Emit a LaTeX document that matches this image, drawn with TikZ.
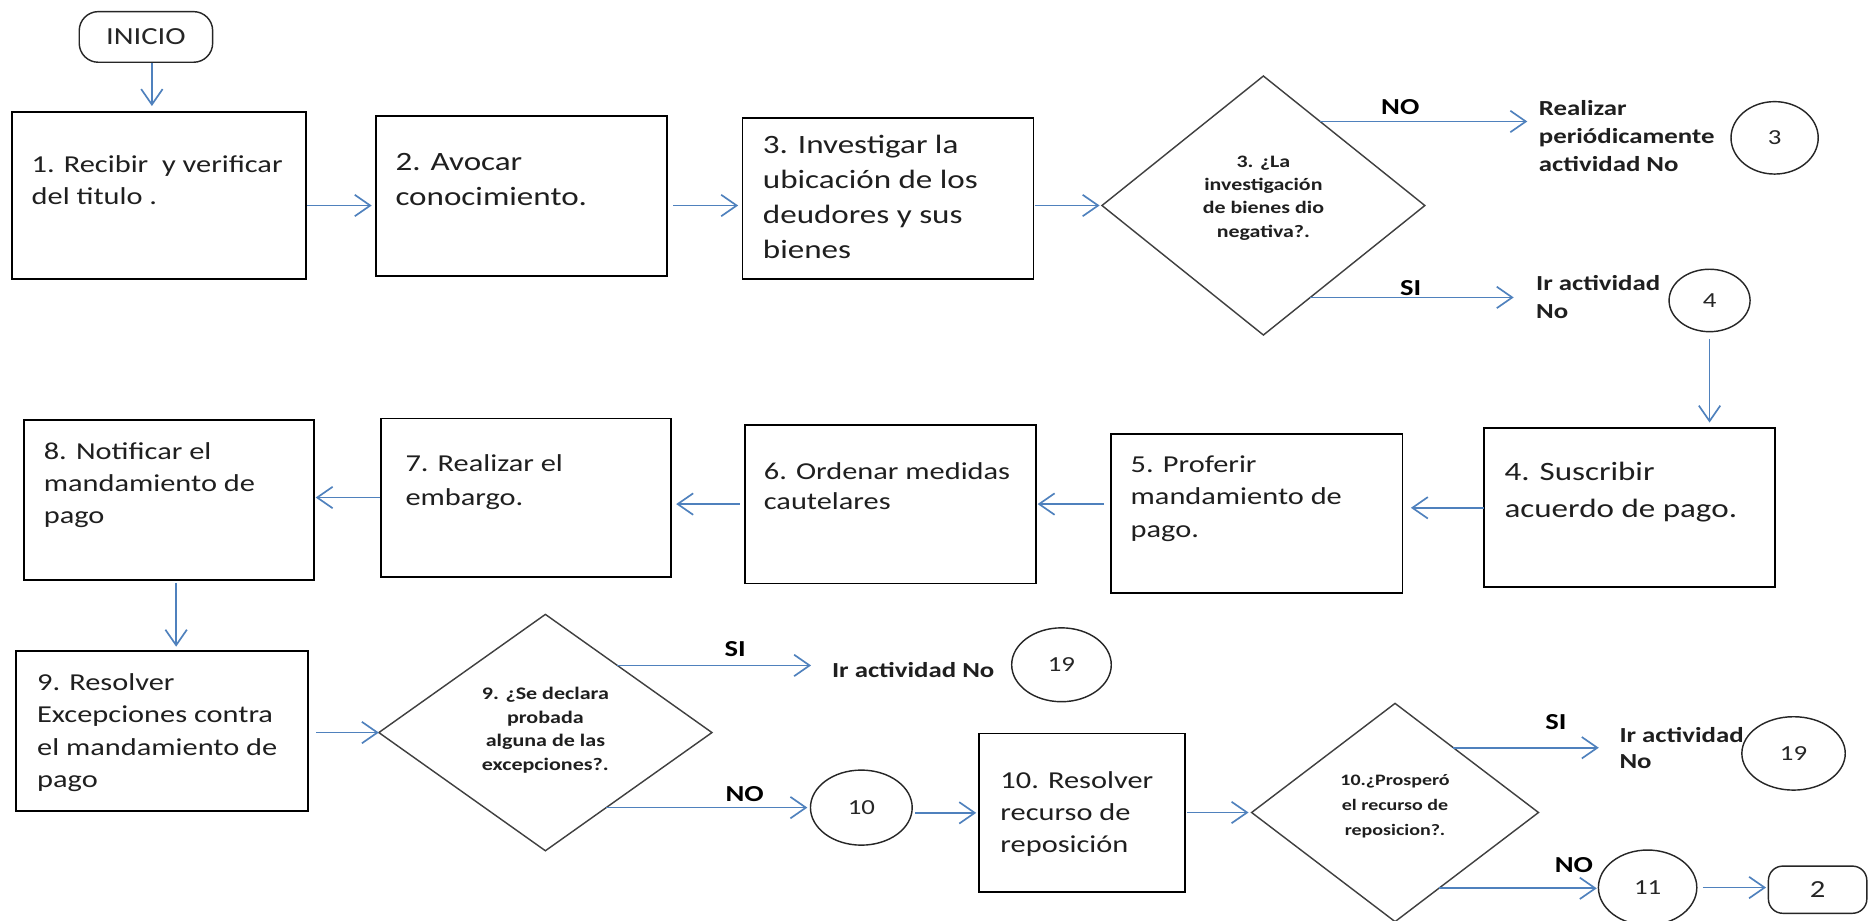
\documentclass[tikz,border=0pt]{standalone}
\usepackage{fontspec}
\setmainfont{Carlito}[FakeStretch=1.25]
\usetikzlibrary{shapes.geometric,arrows.meta}
\definecolor{arrowblue}{RGB}{79,129,189}
\newcommand{\tp}{\rule{0pt}{1em}}
\begin{document}
\begin{tikzpicture}[x=0.5pt,y=-0.5pt,
  pbox/.style={draw=black, line width=0.75pt, inner sep=0pt, outer sep=0pt, anchor=north west},
  ptxt/.style={anchor=north west, inner sep=0pt, align=left, text=black!88},
  fA/.style={font=\fontsize{10.2}{13.6}\selectfont},
  pdia/.style={diamond, draw=black!75, line width=0.6pt, inner sep=0pt, outer sep=0pt},
  pdtxt/.style={anchor=north, inner sep=0pt, align=center, text=black!88},
  pcirc/.style={ellipse, draw=black!85, line width=0.6pt, inner sep=0pt, outer sep=0pt, text=black!85, font=\fontsize{9}{10}\selectfont},
  pterm/.style={rectangle, rounded corners=8pt, draw=black!85, line width=0.6pt, inner sep=0pt, outer sep=0pt, text=black!85, font=\fontsize{10.3}{12}\selectfont},
  pside/.style={anchor=north west, inner sep=0pt, align=left, text=black!88, font=\bfseries\fontsize{9}{11.8}\selectfont},
  plbl/.style={anchor=base, inner sep=0pt, text=black, font=\bfseries\fontsize{9.6}{11}\selectfont},
  parr/.style={draw=arrowblue, line width=0.7pt, -{Straight Barb[length=6.5pt,width=9pt]}, shorten >=1.5pt, shorten <=0.5pt},
]
\useasboundingbox (0,0) rectangle (1568,773);
\fill[white] (0,0) rectangle (1568,773);

% ---------- row 1 ----------
\node[pterm, minimum width=56pt, minimum height=21.25pt] (ini) at (122.5,31) {INICIO};
\node[pbox, minimum width=123.3pt, minimum height=70.1pt] (b1) at (10.1,94.3) {};
\node[ptxt, fA] (b1t) at (26.2,123.7) {\tp 1. Recibir\ \ y verificar\\del titulo .};
\node[pbox, minimum width=122.35pt, minimum height=66.9pt] (b2) at (315.5,97.6) {};
\node[ptxt, font=\fontsize{11.1}{14.65}\selectfont] (b2t) at (331.6,120.5) {\tp 2. Avocar\\conocimiento.};
\node[pbox, minimum width=122.15pt, minimum height=67.75pt] (b3) at (623.2,99) {};
\node[ptxt, font=\fontsize{11.1}{14.7}\selectfont] (b3t) at (640,106.5) {\tp 3. Investigar la\\ubicación de los\\deudores y sus\\bienes};
\node[pdia, minimum width=135.5pt, minimum height=108.7pt] (d1) at (1060.5,172.5) {};
\node[pdtxt, font=\bfseries\fontsize{7.35}{9.8}\selectfont] (d1t) at (1060.5,125.2) {\tp 3. ¿La\\investigación\\de bienes dio\\negativa?.};
\node[pside] (t3) at (1291.4,78.5) {\tp Realizar\\periódicamente\\actividad No};
\node[pcirc, minimum width=36.6pt, minimum height=30.4pt] (c3) at (1489.6,115.7) {3};
\node[pside, font=\bfseries\fontsize{9}{11.9}\selectfont] (t4) at (1289,225.4) {\tp Ir actividad\\No};
\node[pcirc, minimum width=34pt, minimum height=26.2pt] (c4) at (1435,252.2) {4};

% ---------- row 2 ----------
\node[pbox, minimum width=122.15pt, minimum height=66.75pt] (b4) at (1245.7,359.5) {};
\node[ptxt, font=\fontsize{11.1}{15.35}\selectfont] (b4t) at (1262.5,380.8) {\tp 4. Suscribir\\acuerdo de pago.};
\node[pbox, minimum width=122.45pt, minimum height=66.85pt] (b5) at (932.4,364.3) {};
\node[ptxt, font=\fontsize{10.2}{13.65}\selectfont] (b5t) at (948.7,375.6) {\tp 5. Proferir\\mandamiento de\\pago.};
\node[pbox, minimum width=122.15pt, minimum height=66.6pt] (b6) at (625.3,356.5) {};
\node[ptxt, font=\fontsize{10.2}{12.8}\selectfont] (b6t) at (640.8,381.3) {\tp 6. Ordenar medidas\\cautelares};
\node[pbox, minimum width=121.55pt, minimum height=66.4pt] (b7) at (320.1,351.2) {};
\node[ptxt, font=\fontsize{10.2}{14.3}\selectfont] (b7t) at (340,374.6) {\tp 7. Realizar el\\embargo.};
\node[pbox, minimum width=121.55pt, minimum height=66.95pt] (b8) at (20.3,352.8) {};
\node[ptxt, font=\fontsize{10.2}{13.3}\selectfont] (b8t) at (36.4,365.1) {\tp 8. Notificar el\\mandamiento de\\pago};

% ---------- row 3 ----------
\node[pbox, minimum width=122.35pt, minimum height=67pt] (b9) at (13.7,546.5) {};
\node[ptxt, font=\fontsize{10.2}{13.65}\selectfont] (b9t) at (30.8,558.6) {\tp 9. Resolver\\Excepciones contra\\el mandamiento de\\pago};
\node[pdia, minimum width=139.8pt, minimum height=99.2pt] (d2) at (457.8,614.9) {};
\node[pdtxt, font=\bfseries\fontsize{7.4}{9.95}\selectfont] (d2t) at (457.8,572) {\tp 9. ¿Se declara\\probada\\alguna de las\\excepciones?.};
\node[pside] (t19a) at (698,550) {\tp Ir actividad No};
\node[pcirc, minimum width=41.8pt, minimum height=31pt] (c19a) at (891,558) {19};
\node[pcirc, minimum width=42.7pt, minimum height=31.5pt] (c10) at (723,677.9) {10};
\node[pbox, minimum width=86.5pt, minimum height=66.7pt] (b10) at (822,615.6) {};
\node[ptxt, font=\fontsize{10.2}{13.3}\selectfont] (b10t) at (839.4,641.4) {\tp 10. Resolver\\recurso de\\reposición};
\node[pdia, minimum width=120.4pt, minimum height=91.6pt] (d3) at (1171,682) {};
\node[pdtxt, font=\bfseries\fontsize{6.7}{10.5}\selectfont] (d3t) at (1171,645.6) {\tp 10.¿Prosperó\\el recurso de\\reposicion?.};
\node[pside, font=\bfseries\fontsize{9}{11.2}\selectfont] (t19b) at (1359,604.6) {\tp Ir actividad\\No};
\node[pcirc, minimum width=43.4pt, minimum height=30.8pt] (c19b) at (1505.5,632.4) {19};
\node[pcirc, minimum width=41.3pt, minimum height=31.5pt] (c11) at (1383,745) {11};
\node[pterm, rounded corners=6pt, minimum width=41.3pt, minimum height=19.8pt] (t2) at (1525.7,746.8) {2};

% ---------- connectors ----------
\coordinate (p01) at ([xshift=2.5pt]ini.south);
\draw[parr, shorten <=0.3pt, shorten >=2.65pt] (p01) -- (p01 |- b1.north);
\draw[parr, shorten >=1.75pt] (b1.east |- d1.west) -- (b2.west |- d1.west);
\draw[parr, shorten <=2.5pt, shorten >=1.8pt] (b2.east |- d1.west) -- (b3.west |- d1.west);
\draw[parr, shorten >=1pt] (b3.east |- d1.west) -- (d1.west);
\draw[parr, shorten <=0pt, shorten >=4.7pt] (d1.56) -- node[plbl, pos=0.367, yshift=3.1pt] {NO} (d1.56 -| t3.west);
\draw[parr, shorten <=0pt, shorten >=9.2pt] (d1.-63) -- node[plbl, pos=0.446, yshift=1pt] {SI} (d1.-63 -| t4.west);
\draw[parr, shorten <=3pt, shorten >=2.4pt] (c4.south) -- (c4.south |- b4.north);
\draw[parr, shorten <=0pt, shorten >=3.5pt] (b4.west) -- (b4.west -| b5.east);
\draw[parr, shorten <=2.8pt, shorten >=0.7pt] (b5.west |- b6.east) -- (b6.east);
\draw[parr, shorten <=2.2pt, shorten >=2.2pt] (b6.west) -- (b6.west -| b7.east);
\draw[parr, shorten <=0.5pt, shorten >=0.8pt] (b7.west) -- (b7.west -| b8.east);
\coordinate (p89) at ([xshift=3pt]b8.south);
\draw[parr, shorten <=1.25pt, shorten >=1.85pt] (p89) -- (p89 |- b9.north);
\draw[parr, shorten <=3.5pt, shorten >=0pt] (b9.east |- d2.west) -- (d2.west);
\draw[parr, shorten <=0pt, shorten >=8.6pt] (d2.43) -- node[plbl, pos=0.55, yshift=3.9pt] {SI} (d2.43 -| t19a.west);
\draw[parr, shorten <=0pt, shorten >=1.3pt] (d2.-51) -- node[plbl, pos=0.678, yshift=2.75pt] {NO} (d2.-51 -| c10.west);
\draw[parr, shorten <=1.2pt, shorten >=1.3pt] (c10.east |- b10.west) -- (b10.west);
\draw[parr, shorten <=0.75pt, shorten >=1.3pt] (b10.east |- d3.west) -- (d3.west);
\draw[parr, shorten <=0pt, shorten >=8.5pt] (d3.48) -- node[plbl, pos=0.619, yshift=7.7pt] {SI} (d3.48 -| t19b.west);
\draw[parr, shorten <=0pt, shorten >=0.7pt] (d3.-60) -- node[plbl, pos=0.846, yshift=6.6pt] {NO} (d3.-60 -| c11.west);
\draw[parr, shorten <=2.5pt, shorten >=1pt] (c11.east) -- (c11.east -| t2.west);
\end{tikzpicture}
\end{document}
